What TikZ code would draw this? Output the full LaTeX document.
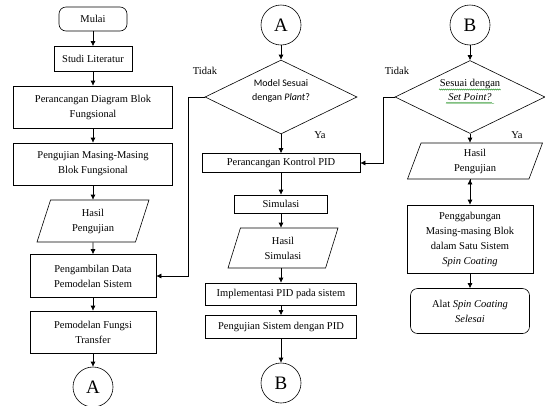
\documentclass[tikz,border=0pt]{standalone}
\usepackage{fontspec}
\setmainfont{Liberation Serif}
\newfontfamily\calfont{Carlito}
\usetikzlibrary{shapes.geometric,arrows.meta,decorations.pathmorphing}

\tikzstyle{every node}=[font=\fontsize{10.5}{15}\selectfont]
\tikzstyle{proses}=[rectangle, draw, align=center, inner sep=2pt]
\tikzstyle{mulai}=[proses, rounded corners=7pt]
\tikzstyle{data}=[trapezium, draw, align=center, inner sep=1pt, trapezium left angle=63, trapezium right angle=117, trapezium stretches body]
\tikzstyle{keputusan}=[diamond, draw, align=center, inner sep=0pt, font=\calfont\fontsize{10}{14}\selectfont]
\tikzstyle{konektor}=[circle, draw, minimum size=40pt, inner sep=0pt, font=\fontsize{19}{19}\selectfont]
\tikzstyle{ket}=[inner sep=0pt]
\tikzstyle{panah}=[-{Latex[length=5pt,width=5pt]}]

\newcommand{\teksnaik}[1]{\raisebox{3.5pt}[0pt][0pt]{\begin{tabular}{@{}c@{}}#1\end{tabular}}}

\begin{document}
\begin{tikzpicture}[x=1pt,y=-1pt,line width=0.6pt]
    \useasboundingbox (0,0) rectangle (545,405);
    % kolom kiri
    \node[mulai, minimum width=68, minimum height=24] (n1) at (93,19) {Mulai};
    \node[proses, minimum width=78, minimum height=25] (n2) at (93,59) {Studi Literatur};
    \node[proses, minimum width=159, minimum height=42] (n3) at (93,107) {Perancangan Diagram Blok\\Fungsional};
    \node[proses, minimum width=159, minimum height=42] (n4) at (93,164) {Pengujian Masing-Masing\\Blok Fungsional};
    \node[data, minimum width=112, minimum height=42] (n5) at (93,221) {Hasil\\Pengujian};
    \node[proses, minimum width=126, minimum height=43] (n6) at (93,276) {Pengambilan Data\\Pemodelan Sistem};
    \node[proses, minimum width=126, minimum height=42] (n7) at (93,332) {Pemodelan Fungsi\\Transfer};
    \node[konektor] (n8) at (93,387) {A};
    % kolom tengah
    \node[konektor] (n9) at (281,25) {A};
    \node[keputusan, minimum width=152, minimum height=74] (n10) at (281,97) {\teksnaik{Model Sesuai\\dengan \textit{Plant}?}};
    \node[proses, minimum width=158, minimum height=19] (n11) at (281,163) {Perancangan Kontrol PID};
    \node[proses, minimum width=93, minimum height=18] (n12) at (281,204) {Simulasi};
    \node[data, minimum width=110, minimum height=40] (n13) at (283,248) {Hasil\\Simulasi};
    \node[proses, minimum width=151, minimum height=22] (n14) at (281,294) {Implementasi PID pada sistem};
    \node[proses, minimum width=151, minimum height=23] (n15) at (281,327) {Pengujian Sistem dengan PID};
    \node[konektor] (n16) at (281,383) {B};
    % kolom kanan
    \node[konektor] (n17) at (470,25) {B};
    \node[keputusan, font=\fontsize{10.5}{14}\selectfont, minimum width=150, minimum height=73] (n18) at (470,97) {\teksnaik{Sesuai dengan\\\textit{Set Point?}}};
    \node[data, minimum width=135, minimum height=36] (n19) at (475,161) {Hasil\\Pengujian};
    \node[proses, minimum width=126, minimum height=68] (n20) at (470,239) {Penggabungan\\Masing-masing Blok\\dalam Satu Sistem\\\textit{Spin Coating}};
    \node[mulai, minimum width=119, minimum height=45] (n21) at (470,311) {Alat \textit{Spin Coating}\\\textit{Selesai}};
    % keterangan
    \node[ket] (t1) at (205,71) {Tidak};
    \node[ket] (y1) at (320,135) {Ya};
    \node[ket] (t2) at (397,71) {Tidak};
    \node[ket] (y2) at (517,135) {Ya};
    \coordinate (c1) at (188,97);
    \coordinate (c2) at (383,97);
    \path[draw,panah]
    (n1) edge (n2)
    (n2) edge (n3)
    (n3) edge (n4)
    (n4) edge (n5)
    (n5) edge (n6)
    (n6) edge (n7)
    (n7) edge (n8)
    (n9) edge (n10)
    (n10) edge (n11)
    (n11) edge (n12)
    (n12) edge (n13.north -| n12)
    (n13.south -| n14) edge (n14)
    (n14) edge (n15)
    (n15) edge (n16)
    (n17) edge (n18)
    (n18) edge (n19.north -| n18)
    (n19.south -| n20) edge (n20)
    (n20) edge (n21)
    ;
    \draw[panah] (n10.west) -- (c1) |- (n6.east);
    \draw[panah] (n18.west) -- (c2) |- (n11.east);
    % garis ejaan
    \draw[green!50!black, line width=0.4pt, decorate, decoration={snake, amplitude=0.6pt, segment length=2pt}]
    (439,89.5) -- (500,89.5) (446,103.5) -- (494,103.5);
\end{tikzpicture}
\end{document}
